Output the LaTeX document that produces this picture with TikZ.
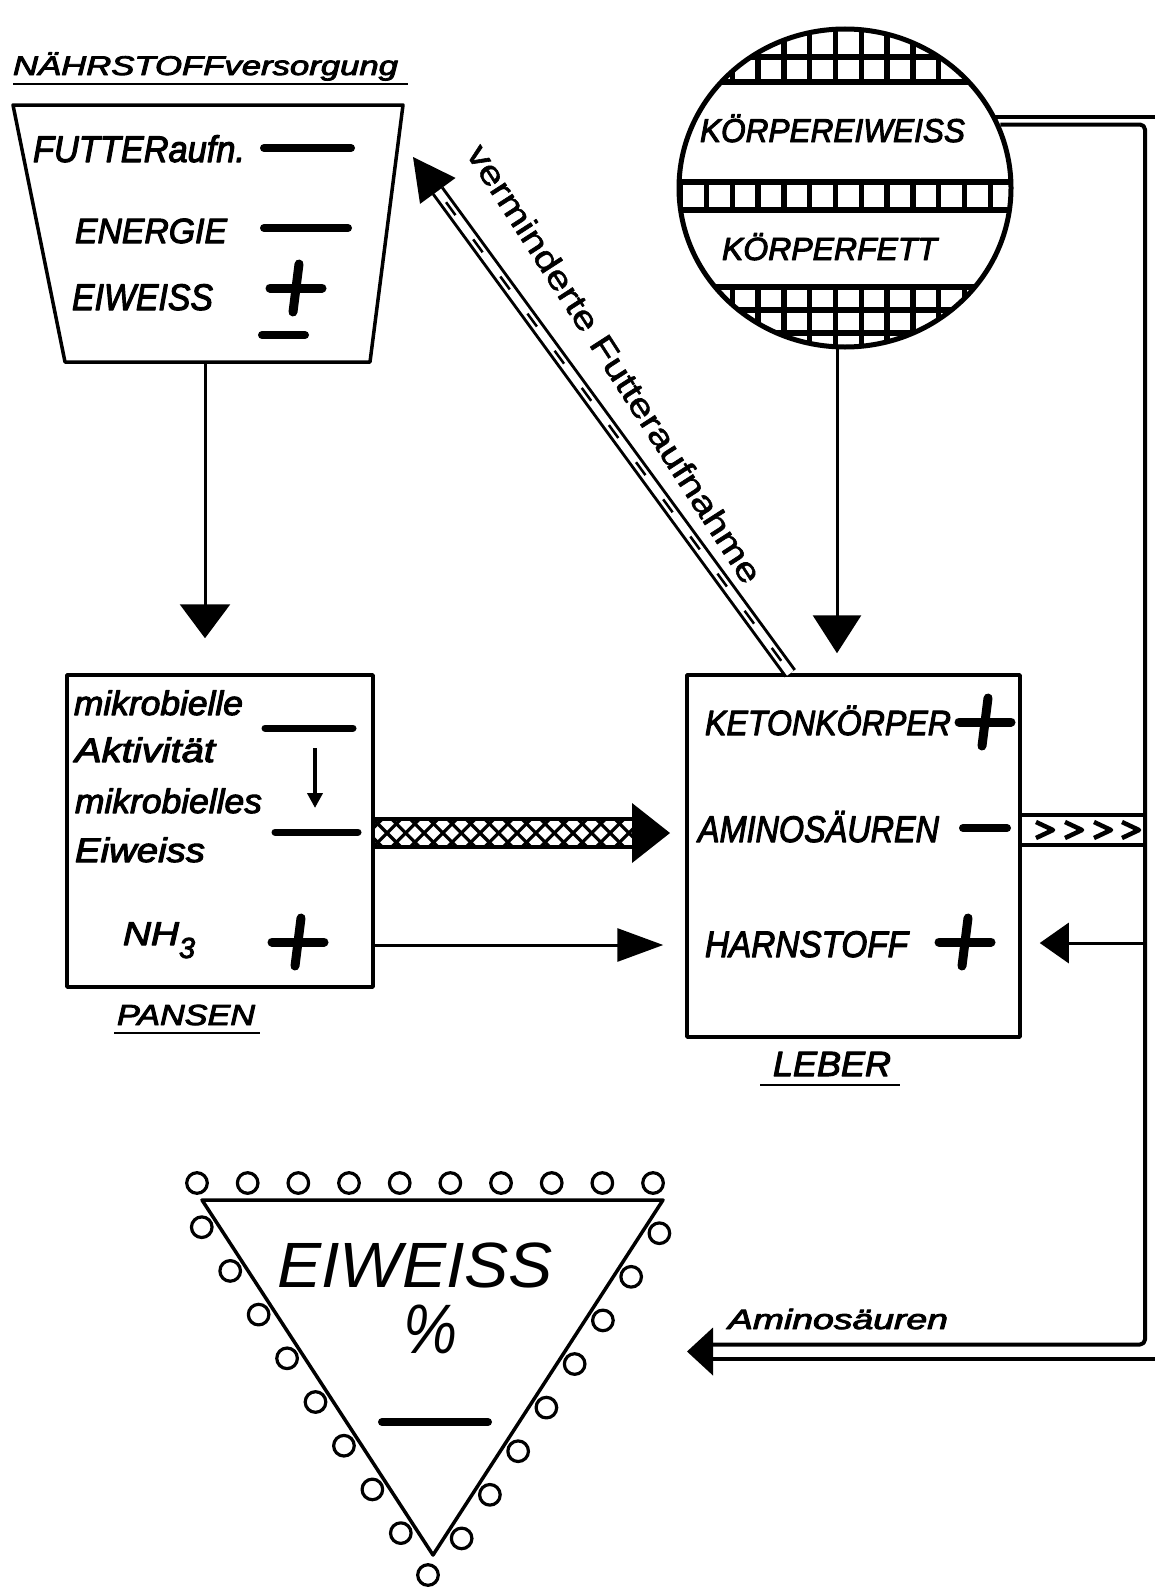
\documentclass[tikz,border=0pt]{standalone}
\usepackage{fontspec}
\setmainfont{Liberation Sans}
\newfontfamily\labfont{Liberation Sans}[FakeBold=3]
\newfontfamily\midfont{Liberation Sans}[FakeBold=1.5]
\usetikzlibrary{arrows.meta,calc,shapes.geometric}
\newcommand\fsz[1]{\labfont\fontsize{#1pt}{#1pt}\selectfont\itshape}
\newcommand\fszmid[1]{\midfont\fontsize{#1pt}{#1pt}\selectfont}
\newcommand\fszthin[1]{\normalfont\fontsize{#1pt}{#1pt}\selectfont\itshape}
\newcommand\fitto[2]{\resizebox{#1}{\height}{#2}}
\begin{document}
\begin{tikzpicture}[x=1pt,y=-1pt,line join=round,
  lbl/.style={inner sep=0pt,outer sep=0pt,anchor=base west},
  box/.style={draw,line width=3.5pt,inner sep=0pt},
  sign/.style={line width=8pt,line cap=round},
  conn/.style={line width=3pt},
  frame/.style={line width=4pt},
  grid/.style={line width=5.5pt},
  bead/.style={line width=3.2pt},
  plusmark/.pic={\draw[sign,line width=9pt] (-26,0) -- (26,0); \draw[sign,line width=9pt] (3,-24) -- (-3,24);}]
\fill[white] (0,0) rectangle (1154,1587);
\useasboundingbox (0,0) rectangle (1154,1587);

% ---------- Naehrstoffversorgung ----------
\node[lbl] (title) at (13,75) {\fsz{27}\fitto{385pt}{NÄHRSTOFFversorgung}};
\draw[line width=2.5pt] (13,84) -- (408,84);
\draw[box] (13,105) -- (403,105) -- (370,362) -- (65,362) -- cycle;
\coordinate (trapbot) at (205,362);
\node[lbl] (futter) at (33,162) {\fsz{37}\fitto{212pt}{FUTTERaufn.}};
\draw[sign] (264,148) -- (351,148);
\node[lbl] (energie) at (75,243) {\fsz{35}\fitto{152pt}{ENERGIE}};
\draw[sign] (264,228) -- (348,228);
\node[lbl] (eiweiss1) at (72,310) {\fsz{37}\fitto{141pt}{EIWEISS}};
\pic (p1) at (296,288) {plusmark};
\draw[sign] (262,335) -- (305,335);

% ---------- Pansen ----------
\node[box,minimum width=306pt,minimum height=312pt] (pansen) at (220,831) {};
\draw[conn,-{Triangle[length=34pt,width=50pt]},shorten >=35pt] (trapbot) -- (trapbot |- pansen.north);
\node[lbl] (mik1) at (74,715) {\fsz{34}\fitto{169pt}{mikrobielle}};
\draw[sign,line width=7pt] (265,728) -- (353,728);
\node[lbl] (akt) at (75,762) {\fsz{34}\fitto{140pt}{Aktivität}};
\draw[line width=4pt,-{Triangle[length=15pt,width=15pt]}] (315,748) -- (315,808);
\node[lbl] (mik2) at (75,813) {\fsz{34}\fitto{187pt}{mikrobielles}};
\draw[sign,line width=7pt] (275,832) -- (358,832);
\node[lbl] (eiw2) at (75,862) {\fsz{34}\fitto{130pt}{Eiweiss}};
\node[lbl] (nh3) at (123,945) {\fsz{33}\fitto{56pt}{NH}\raisebox{-13pt}{\fsz{29}3}};
\pic (p2) at (298,942) {plusmark};
\node[lbl] (pansenlbl) at (117,1025) {\fsz{29}\fitto{138pt}{PANSEN}};
\draw[line width=2.5pt] (114,1033) -- (260,1033);

% ---------- Leber ----------
\node[box,minimum width=333pt,minimum height=362pt] (leber) at (853.5,856) {};
\node[lbl] (keton) at (705,735) {\fsz{35}\fitto{246pt}{KETONKÖRPER}};
\pic (p3) at (985,722) {plusmark};
\node[lbl] (amino) at (698,842) {\fsz{37}\fitto{241pt}{AMINOSÄUREN}};
\draw[sign] (963,828) -- (1007,828);
\node[lbl] (harn) at (705,957) {\fsz{37}\fitto{203pt}{HARNSTOFF}};
\pic (p4) at (965,942) {plusmark};
\node[lbl] (leberlbl) at (773,1076) {\fsz{35}\fitto{118pt}{LEBER}};
\draw[line width=2.5pt] (760,1085) -- (900,1085);

% ---------- crosshatched arrow Pansen -> Leber ----------
\coordinate (xT) at (0,819); \coordinate (xB) at (0,847); \coordinate (xE) at (632,0);
\begin{scope}
  \clip (pansen.east |- xT) rectangle (xE |- xB);
  \foreach \i in {-2,...,15} {
    \draw[line width=3.2pt] (373+\i*18.6,819) -- ++(28,28);
    \draw[line width=3.2pt] (401+\i*18.6,819) -- ++(-28,28);
  }
\end{scope}
\draw[frame] (pansen.east |- xT) -- (xE |- xT);
\draw[frame] (pansen.east |- xB) -- (xE |- xB);
\fill (632,803) -- (670,833) -- (632,863) -- cycle;

% ---------- NH3 arrow ----------
\coordinate (ny) at (0,945);
\draw[conn,-{Triangle[length=46pt,width=33pt]},shorten >=22pt] (pansen.east |- ny) -- (leber.west |- ny);

% ---------- Koerper circle ----------
\node[draw,ellipse,line width=5pt,minimum width=332pt,minimum height=318pt,inner sep=0pt] (koerper) at (845,188) {};
\begin{scope}
  \clip (845,188) ellipse [x radius=164, y radius=157];
  \foreach \yy in {57,82,182,210,287,310,333} \draw[grid] (660,\yy) -- (1030,\yy);
  \foreach \k in {-2,...,12} {
    \pgfmathsetmacro\xx{706.5+25.8*\k}
    \draw[grid] (\xx,20) -- (\xx,82);
    \draw[grid] (\xx,182) -- (\xx,210);
    \draw[grid] (\xx,287) -- (\xx,360);
  }
\end{scope}
\node[lbl] (keiw) at (700,142) {\fsz{33}\fitto{265pt}{KÖRPEREIWEISS}};
\node[lbl] (kfett) at (722,260) {\fsz{32}\fitto{215pt}{KÖRPERFETT}};
\coordinate (kx) at ($(koerper.south)+(-8,-2)$);
\draw[conn,-{Triangle[length=38pt,width=48pt]},shorten >=20pt] (kx) -- (kx |- leber.north);

% ---------- right frame (double line) ----------
\coordinate (oTR) at (1157,116.5); \coordinate (oBR) at (1157,1358.5);
\coordinate (iTR) at (1145,124.5); \coordinate (iBR) at (1145,1344.5);
\coordinate (aTip) at (687,1351.5); \coordinate (aBase) at (713,1351.5);
\draw[frame] (koerper.26 |- oTR) -- (oTR) -- (oBR) -- (aBase |- oBR);
\draw[frame,rounded corners=5pt] (koerper.22 |- iTR) -- (iTR) -- (iBR) -- (aBase |- iBR);
\fill (aTip) -- ($(aBase)+(0,-24)$) -- ($(aBase)+(0,24)$) -- cycle;
\node[lbl] (aminolbl) at (728,1329) {\fsz{28}\fitto{220pt}{Aminosäuren}};

% chevron band Leber -> frame
\coordinate (cT) at (0,815); \coordinate (cB) at (0,845);
\draw[frame] (leber.east |- cT) -- (iTR |- cT);
\draw[frame] (leber.east |- cB) -- (iTR |- cB);
\foreach \cx in {1046,1075,1104,1132}
  \draw[line width=4.5pt] (\cx-10,822) -- (\cx+7,830) -- (\cx-10,838);

% Harnstoff arrow from frame
\coordinate (hy) at (0,943);
\draw[conn,-{Triangle[length=29pt,width=40pt]},shorten >=18pt] (iTR |- hy) -- (leber.east |- hy);

% ---------- verminderte Futteraufnahme ----------
\coordinate (dstart) at ($(leber.north west)+(105,0)$);
\coordinate (dtip) at (413,157);
\coordinate (dbase) at ($(dtip)!42pt!(dstart)$);
\draw[line width=3pt,double distance=8pt] (dstart) -- (dbase);
\draw[line width=2.5pt,dash pattern=on 16pt off 30pt] ($(dbase)!14pt!(dstart)$) -- (dstart);
\fill (dtip) -- ($(dbase)!22pt!90:(dtip)$) -- ($(dbase)!22pt!-90:(dtip)$) -- cycle;
\node[inner sep=0pt,anchor=base,rotate=-57.2] (vf) at (605,370) {\fszmid{33}\fitto{515pt}{verminderte Futteraufnahme}};

% ---------- EIWEISS triangle ----------
\draw[line width=3.5pt] (202,1200) -- (663,1200) -- (433,1555) -- cycle;
\node[lbl] (eiwbig) at (277,1287) {\fszthin{64}\fitto{276pt}{EIWEISS}};
\node[lbl] (pct) at (403,1353) {\fszthin{70}\fitto{54pt}{\%}};
\draw[sign] (382,1422) -- (488,1422);
\foreach \i in {0,...,9} \draw[bead] (197+\i*50.67,1183) circle [radius=10.3];
\foreach \k in {0,...,7} {
  \pgfmathsetmacro\ly{1219+43.7*\k}
  \pgfmathsetmacro\lx{202+0.6507*(\ly-1200)-12.6}
  \draw[bead] (\lx,\ly+8.2) circle [radius=10.3];
  \pgfmathsetmacro\ry{1225+43.6*\k}
  \pgfmathsetmacro\rx{663-0.648*(\ry-1200)+12.6}
  \draw[bead] (\rx,\ry+8.2) circle [radius=10.3];
}
\draw[bead] (428,1575) circle [radius=10.3];
\end{tikzpicture}
\end{document}
